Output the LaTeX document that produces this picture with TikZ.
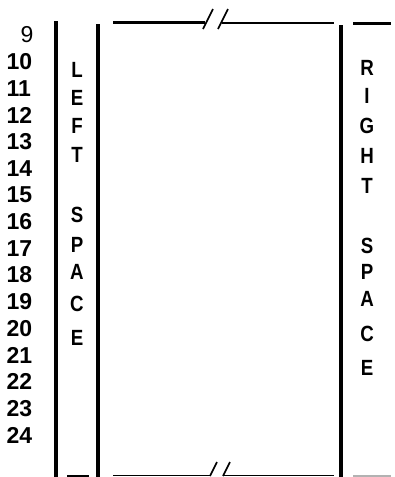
\documentclass[tikz,border=0pt]{standalone}
\usepackage{fontspec}
\usepackage{graphicx}
\setmainfont{Liberation Sans}
\newcommand{\narr}[1]{\scalebox{0.85}[1]{#1}}
\begin{document}
\begin{tikzpicture}[x=1pt,y=-1pt,
  num/.style={font=\fontsize{23}{23}\selectfont\bfseries, anchor=west, inner sep=0pt},
  numreg/.style={font=\fontsize{23}{23}\selectfont, anchor=east, inner sep=0pt},
  lett/.style={font=\fontsize{22}{22}\selectfont\bfseries, inner sep=0pt},
  bar/.style={line width=4pt},
  rule/.style={line width=2.6pt},
  thinrule/.style={line width=1.6pt},
  slash/.style={line width=1.6pt}]
\useasboundingbox (0,0) rectangle (395,477);
% vertical bars
\coordinate (l1t) at (55.5,21); \coordinate (l1b) at (55.5,477);
\coordinate (l2t) at (98,24);   \coordinate (l2b) at (98,477);
\coordinate (r1t) at (341,25);  \coordinate (r1b) at (341,477);
\draw[bar] (l1t) -- (l1b);
\draw[bar] (l2t) -- (l2b);
\draw[bar] (r1t) -- (r1b);
% top rule with break
\coordinate (ta) at (113,22.5); \coordinate (tb) at (205,22.5);
\coordinate (tc) at (222,23);   \coordinate (td) at (334,23);
\draw[rule] (ta) -- (tb);
\draw[rule] (tc) -- (td);
\coordinate (ts1a) at (203,29); \coordinate (ts1b) at (213,9);
\coordinate (ts2a) at (218,29); \coordinate (ts2b) at (228,9);
\draw[slash] (ts1a) -- (ts1b);
\draw[slash] (ts2a) -- (ts2b);
\coordinate (tra) at (353,23.5); \coordinate (trb) at (391,23.5);
\draw[rule] (tra) -- (trb);
% bottom rule with break
\coordinate (bsa) at (67,476); \coordinate (bsb) at (89,476);
\draw[thinrule] (bsa) -- (bsb);
\coordinate (ba) at (113,475.5); \coordinate (bb) at (211,475.5);
\coordinate (bc) at (223,475.5); \coordinate (bd) at (334,475.5);
\draw[thinrule] (ba) -- (bb);
\draw[thinrule] (bc) -- (bd);
\coordinate (bs1a) at (210,476); \coordinate (bs1b) at (217,462);
\coordinate (bs2a) at (223,476); \coordinate (bs2b) at (230,462);
\draw[slash] (bs1a) -- (bs1b);
\draw[slash] (bs2a) -- (bs2b);
\coordinate (bra) at (353,476); \coordinate (brb) at (391,476);
\draw[thinrule,gray!60] (bra) -- (brb);
% line numbers
\node[numreg] (n9) at (33.5,35) {9};
\foreach \n in {10,...,24}{
  \node[num] (n\n) at (6.5,{35+26.67*(\n-9)}) {\n};
}
% left space
\node[lett] (lL) at (77,70)  {\narr{L}};
\node[lett] (lE) at (77,98)  {\narr{E}};
\node[lett] (lF) at (77,126) {\narr{F}};
\node[lett] (lT) at (77,155) {\narr{T}};
\node[lett] (lS) at (77,215) {\narr{S}};
\node[lett] (lP) at (77,245) {\narr{P}};
\node[lett] (lA) at (77,272) {\narr{A}};
\node[lett] (lC) at (77,304) {\narr{C}};
\node[lett] (lE2) at (77,338) {\narr{E}};
% right space
\node[lett] (rR) at (367,68)  {\narr{R}};
\node[lett] (rI) at (367,96)  {\narr{I}};
\node[lett] (rG) at (367,126) {\narr{G}};
\node[lett] (rH) at (367,156) {\narr{H}};
\node[lett] (rT) at (367,186) {\narr{T}};
\node[lett] (rS) at (367,246) {\narr{S}};
\node[lett] (rP) at (367,272) {\narr{P}};
\node[lett] (rA) at (367,299) {\narr{A}};
\node[lett] (rC) at (367,334) {\narr{C}};
\node[lett] (rE) at (367,368) {\narr{E}};
\end{tikzpicture}
\end{document}
